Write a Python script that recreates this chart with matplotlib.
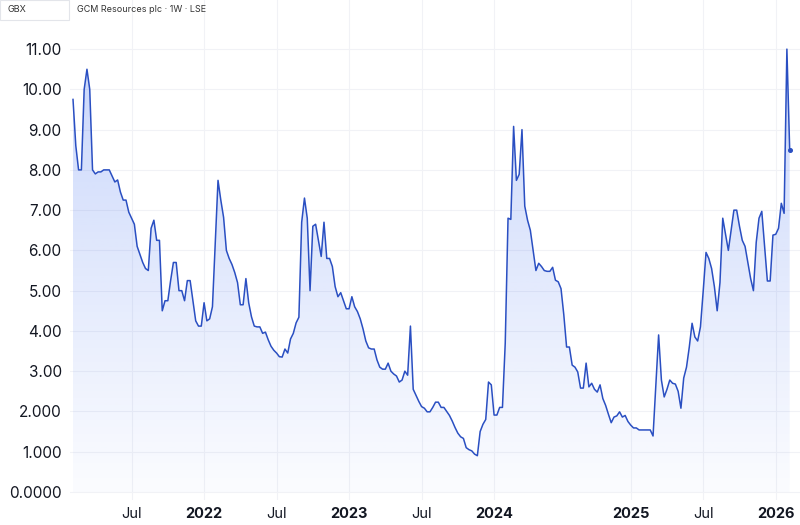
import matplotlib.pyplot as plt
import numpy as np
from matplotlib.colors import to_rgb
from matplotlib.patches import Rectangle


# ==========================================================
# GCM RESOURCES PLC - WEEKLY CLOSE (GBX)
# ==========================================================

# Weekly closes, one value per bar (bar index on the x axis)
prices = [
    9.75, 8.6, 8.0, 8.0, 10.0, 10.5, 10.0, 8.0, 7.9, 7.95,
    7.95, 8.0, 8.0, 8.0, 7.85, 7.7, 7.75, 7.45, 7.25, 7.25,
    6.95, 6.8, 6.65, 6.1, 5.9, 5.7, 5.55, 5.5, 6.55, 6.75,
    6.25, 6.25, 4.5, 4.75, 4.75, 5.25, 5.7, 5.7, 5.0, 5.0,
    4.75, 5.25, 5.25, 4.75, 4.25, 4.12, 4.12, 4.7, 4.25, 4.3,
    4.6, 6.2, 7.74, 7.25, 6.82, 6.0, 5.8, 5.65, 5.45, 5.2,
    4.65, 4.65, 5.3, 4.7, 4.35, 4.12, 4.1, 4.1, 3.94, 3.97,
    3.78, 3.62, 3.52, 3.45, 3.36, 3.35, 3.55, 3.45, 3.8, 3.94,
    4.2, 4.34, 6.7, 7.3, 6.8, 5.0, 6.6, 6.65, 6.25, 5.85,
    6.7, 5.8, 5.8, 5.6, 5.1, 4.85, 4.95, 4.75, 4.55, 4.55,
    4.85, 4.6, 4.48, 4.3, 4.05, 3.75, 3.58, 3.55, 3.55, 3.28,
    3.1, 3.05, 3.05, 3.2, 3.0, 2.93, 2.88, 2.73, 2.78, 3.0,
    2.9, 4.12, 2.55, 2.4, 2.25, 2.12, 2.08, 1.99, 1.99, 2.1,
    2.23, 2.23, 2.1, 2.1, 2.0, 1.9, 1.76, 1.6, 1.46, 1.37,
    1.33, 1.1, 1.05, 1.02, 0.94, 0.9, 1.5, 1.68, 1.8, 2.73,
    2.66, 1.91, 1.91, 2.1, 2.1, 3.7, 6.8, 6.77, 9.08, 7.74,
    7.89, 9.0, 7.1, 6.75, 6.5, 6.0, 5.5, 5.68, 5.6, 5.5,
    5.48, 5.48, 5.58, 5.26, 5.22, 5.05, 4.4, 3.6, 3.6, 3.15,
    3.1, 2.98, 2.58, 2.58, 3.2, 2.61, 2.7, 2.55, 2.48, 2.66,
    2.32, 2.15, 1.93, 1.72, 1.86, 1.89, 1.99, 1.86, 1.9, 1.75,
    1.66, 1.59, 1.59, 1.54, 1.54, 1.54, 1.54, 1.54, 1.39, 2.65,
    3.9, 2.78, 2.36, 2.55, 2.78, 2.7, 2.68, 2.5, 2.08, 2.83,
    3.1, 3.6, 4.19, 3.85, 3.75, 4.1, 5.0, 5.95, 5.8, 5.55,
    5.1, 4.5, 5.2, 6.8, 6.4, 6.0, 6.5, 7.0, 7.0, 6.6,
    6.25, 6.1, 5.7, 5.3, 5.0, 6.2, 6.8, 6.97, 6.1, 5.24,
    5.24, 6.38, 6.4, 6.55, 7.17, 6.92, 11.0, 8.5,
]

# X tick labels placed at bar indices
x_tick_index = [21, 47, 73, 99, 125, 151, 200, 226, 252]
x_tick_labels = ["Jul", "2022", "Jul", "2023", "Jul", "2024", "2025", "Jul", "2026"]

# Y tick labels
y_tick_values = [0, 1, 2, 3, 4, 5, 6, 7, 8, 9, 10, 11]
y_tick_labels = ["0.0000", "1.000", "2.000", "3.00", "4.00", "5.00",
                 "6.00", "7.00", "8.00", "9.00", "10.00", "11.00"]


# ==========================================================
# STYLE
# ==========================================================

plt.rcParams["font.family"] = ["Inter", "DejaVu Sans"]

line_color = "#2a4fc2"
fill_color = "#2f62f0"
grid_color = "#f1f2f6"
text_color = "#131722"

x = np.arange(len(prices))


# ==========================================================
# CREATE FIGURE
# ==========================================================

fig = plt.figure(figsize=(8, 5.25), dpi=100)

# axes run from pixel x=70 to 800 and y=0 to 500
ax = fig.add_axes([70 / 800, 25 / 525, 730 / 800, 500 / 525])

x_min = -1.08
x_max = 260.7
y_min = -0.2
y_max = 12.22


# ==========================================================
# GRADIENT FILL UNDER THE LINE
# ==========================================================

fill = ax.fill_between(x, prices, 0, color="none", lw=0)

rgb = to_rgb(fill_color)
gradient = np.zeros((256, 1, 4))
gradient[:, 0, 0] = rgb[0]
gradient[:, 0, 1] = rgb[1]
gradient[:, 0, 2] = rgb[2]
gradient[:, 0, 3] = np.linspace(0.02, 0.26, 256)

im = ax.imshow(
    gradient,
    extent=[x_min, x_max, 0, 11],
    origin="lower",
    aspect="auto",
    zorder=1,
)
im.set_clip_path(fill.get_paths()[0], transform=ax.transData)


# ==========================================================
# PRICE LINE
# ==========================================================

ax.plot(x, prices, color=line_color, linewidth=1.1, zorder=3)

ax.plot(
    x[-1],
    prices[-1],
    marker="o",
    markersize=2.6,
    color=line_color,
    zorder=4,
)


# ==========================================================
# AXES SETTINGS
# ==========================================================

ax.set_xlim(x_min, x_max)
ax.set_ylim(y_min, y_max)

for side in ["top", "right", "bottom", "left"]:
    ax.spines[side].set_visible(False)

ax.set_yticks(y_tick_values)
ax.set_yticklabels(y_tick_labels, fontsize=11, color=text_color)

ax.set_xticks(x_tick_index)
ax.set_xticklabels(x_tick_labels, fontsize=10.5, color=text_color)
for label in ax.get_xticklabels():
    if label.get_text() != "Jul":
        label.set_fontweight("bold")

ax.tick_params(axis="y", length=0, pad=6)
ax.tick_params(axis="x", length=0, pad=5)

ax.grid(True, color=grid_color, linewidth=0.8, zorder=0)
ax.set_axisbelow(True)


# ==========================================================
# HEADER
# ==========================================================

fig.patches.append(
    Rectangle(
        (0, 1 - 20 / 525),
        69 / 800,
        20 / 525,
        transform=fig.transFigure,
        facecolor="white",
        edgecolor="#e3e5ea",
        linewidth=0.8,
        zorder=5,
    )
)

fig.text(7 / 800, 1 - 10 / 525, "GBX", fontsize=6.5,
         color="#333333", va="center", ha="left", zorder=6)

fig.text(77 / 800, 1 - 10 / 525, "GCM Resources plc · 1W · LSE",
         fontsize=6.5, color="#333333", va="center", ha="left", zorder=6)

fig.savefig("out.png", dpi=100)
